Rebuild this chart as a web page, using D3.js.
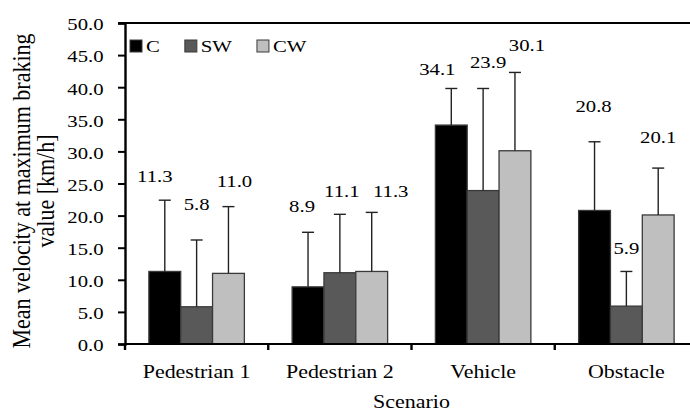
<!DOCTYPE html>
<html>
<head>
<meta charset="utf-8">
<script src="https://cdn.jsdelivr.net/npm/d3@7"></script>
<style>
  body { margin: 0; background: #ffffff; }
  text { font-family: "Liberation Serif", "Times New Roman", serif; fill: #000; }
</style>
</head>
<body>
<svg id="chart" width="690" height="414"></svg>
<script>
// Mean velocity at maximum braking value per scenario and condition
const scenarios = ["Pedestrian 1", "Pedestrian 2", "Vehicle", "Obstacle"];
const seriesNames = ["C", "SW", "CW"];
const valuesC  = [11.3, 8.9, 34.1, 20.8];
const valuesSW = [5.8, 11.1, 23.9, 5.9];
const valuesCW = [11.0, 11.3, 30.1, 20.1];
// Upper error (standard deviation) for each bar
const errC  = [11.1, 8.5, 5.7, 10.7];
const errSW = [10.4, 9.1, 15.9, 5.4];
const errCW = [10.4, 9.2, 12.2, 7.3];
const yTicks = [0, 5, 10, 15, 20, 25, 30, 35, 40, 45, 50];
const xTitle = "Scenario";
const yTitleLines = ["Mean velocity at maximum braking", "value [km/h]"];

// Styling
const fills = ["#000000", "#595959", "#bfbfbf"];
const stretch = 1.22;           // horizontal text widening
// Hand-placed label offsets [dx, dy] from the top of each error bar, per series then scenario
const labelNudge = [
  [[-10, -18], [-6, -20], [-14, -13], [-1, -30]],
  [[0, -30], [2, -17], [5, -20], [0, -17]],
  [[6, -20], [19, -15], [12, -21], [0, -25]]
];

const series = seriesNames.map((name, i) => ({
  name,
  values: [valuesC, valuesSW, valuesCW][i],
  errs: [errC, errSW, errCW][i],
  fill: fills[i]
}));

const svg = d3.select("#chart");
const margin = { left: 125, top: 23 };
const plotW = 573, plotH = 321;

const g = svg.append("g").attr("transform", `translate(${margin.left},${margin.top})`);

const x0 = d3.scaleBand().domain(scenarios).range([0, plotW]).padding(0);
const barW = x0.bandwidth() / 4.5;
const x1 = d3.scaleBand().domain(seriesNames)
  .range([(x0.bandwidth() - 3 * barW) / 2, (x0.bandwidth() + 3 * barW) / 2]).padding(0);
const y = d3.scaleLinear().domain([0, 50]).range([plotH, 0]);

// Bars
const groups = g.selectAll("g.series").data(series).join("g").attr("class", "series");
groups.selectAll("rect").data(s => s.values.map((v, j) => ({ s, v, j })))
  .join("rect")
  .attr("x", d => x0(scenarios[d.j]) + x1(d.s.name))
  .attr("y", d => y(d.v))
  .attr("width", x1.bandwidth())
  .attr("height", d => y(0) - y(d.v))
  .attr("fill", d => d.s.fill)
  .attr("stroke", "#3a3a3a")
  .attr("stroke-width", 1.3);

// Error bars (upper only)
const capHalf = 6;
const err = g.selectAll("g.err").data(series.flatMap((s, i) => s.values.map((v, j) => ({ s, i, v, j, e: s.errs[j] }))))
  .join("g").attr("class", "err");
const cxOf = d => x0(scenarios[d.j]) + x1(d.s.name) + x1.bandwidth() / 2;
err.append("line")
  .attr("x1", cxOf).attr("x2", cxOf)
  .attr("y1", d => y(d.v))
  .attr("y2", d => y(d.v + d.e))
  .attr("stroke", "#222").attr("stroke-width", 1.4);
err.append("line")
  .attr("x1", d => cxOf(d) - capHalf)
  .attr("x2", d => cxOf(d) + capHalf)
  .attr("y1", d => y(d.v + d.e))
  .attr("y2", d => y(d.v + d.e))
  .attr("stroke", "#222").attr("stroke-width", 1.4);

// Value labels
err.append("text")
  .attr("text-anchor", "middle")
  .attr("font-size", 17)
  .attr("transform", d => {
    const cx = cxOf(d) + labelNudge[d.i][d.j][0];
    const cy = y(d.v + d.e) + labelNudge[d.i][d.j][1];
    return `translate(${cx},${cy}) scale(${stretch},1)`;
  })
  .text(d => d3.format(".1f")(d.v));

// Y axis
const yAxis = g.append("g")
  .call(d3.axisLeft(y).tickValues(yTicks).tickFormat(d3.format(".1f")).tickSize(7).tickPadding(0));
yAxis.select(".domain").attr("stroke", "#000").attr("stroke-width", 2.4);
yAxis.selectAll(".tick line").attr("stroke", "#000").attr("stroke-width", 2);
yAxis.selectAll(".tick text")
  .attr("font-size", 17)
  .attr("font-family", "Liberation Serif, serif")
  .attr("x", -17.5)
  .attr("dy", "0.4em")
  .attr("transform", `scale(${stretch},1)`);

// Top frame line
g.append("line").attr("x1", -7).attr("x2", plotW).attr("y1", 0).attr("y2", 0)
  .attr("stroke", "#000").attr("stroke-width", 2);

// X axis with boundary ticks
g.append("line").attr("x1", 0).attr("x2", plotW).attr("y1", plotH).attr("y2", plotH)
  .attr("stroke", "#000").attr("stroke-width", 2);
const bounds = scenarios.map(s => x0(s)).concat([plotW]);
g.selectAll("line.xtick").data(bounds).join("line").attr("class", "xtick")
  .attr("x1", d => d).attr("x2", d => d).attr("y1", plotH).attr("y2", plotH + 6)
  .attr("stroke", "#000").attr("stroke-width", 2.4);
g.selectAll("text.xlab").data(scenarios).join("text").attr("class", "xlab")
  .attr("text-anchor", "middle").attr("font-size", 18)
  .attr("transform", d => `translate(${x0(d) + x0.bandwidth() / 2},${plotH + 34}) scale(${stretch},1)`)
  .text(d => d);

// Axis titles
g.append("text").attr("text-anchor", "middle").attr("font-size", 18)
  .attr("transform", `translate(${plotW / 2},${plotH + 64}) scale(${stretch},1)`)
  .text(xTitle);
svg.selectAll("text.ytitle").data(yTitleLines).join("text").attr("class", "ytitle")
  .attr("text-anchor", "middle").attr("font-size", 22)
  .attr("transform", (d, i) => `translate(${30 + i * 24},191) rotate(-90) scale(1,1.12)`)
  .text(d => d);

// Legend
const legend = g.append("g").attr("transform", "translate(5,23)");
let lx = 0;
series.forEach(s => {
  const item = legend.append("g").attr("transform", `translate(${lx},0)`);
  item.append("rect").attr("x", 0).attr("y", -6).attr("width", 12).attr("height", 12)
    .attr("fill", s.fill).attr("stroke", "#3a3a3a").attr("stroke-width", 1);
  const t = item.append("text").attr("font-size", 17)
    .attr("transform", `translate(16,6) scale(${stretch},1)`).text(s.name);
  lx += 16 + t.node().getComputedTextLength() * stretch + 25;
});
</script>
</body>
</html>
